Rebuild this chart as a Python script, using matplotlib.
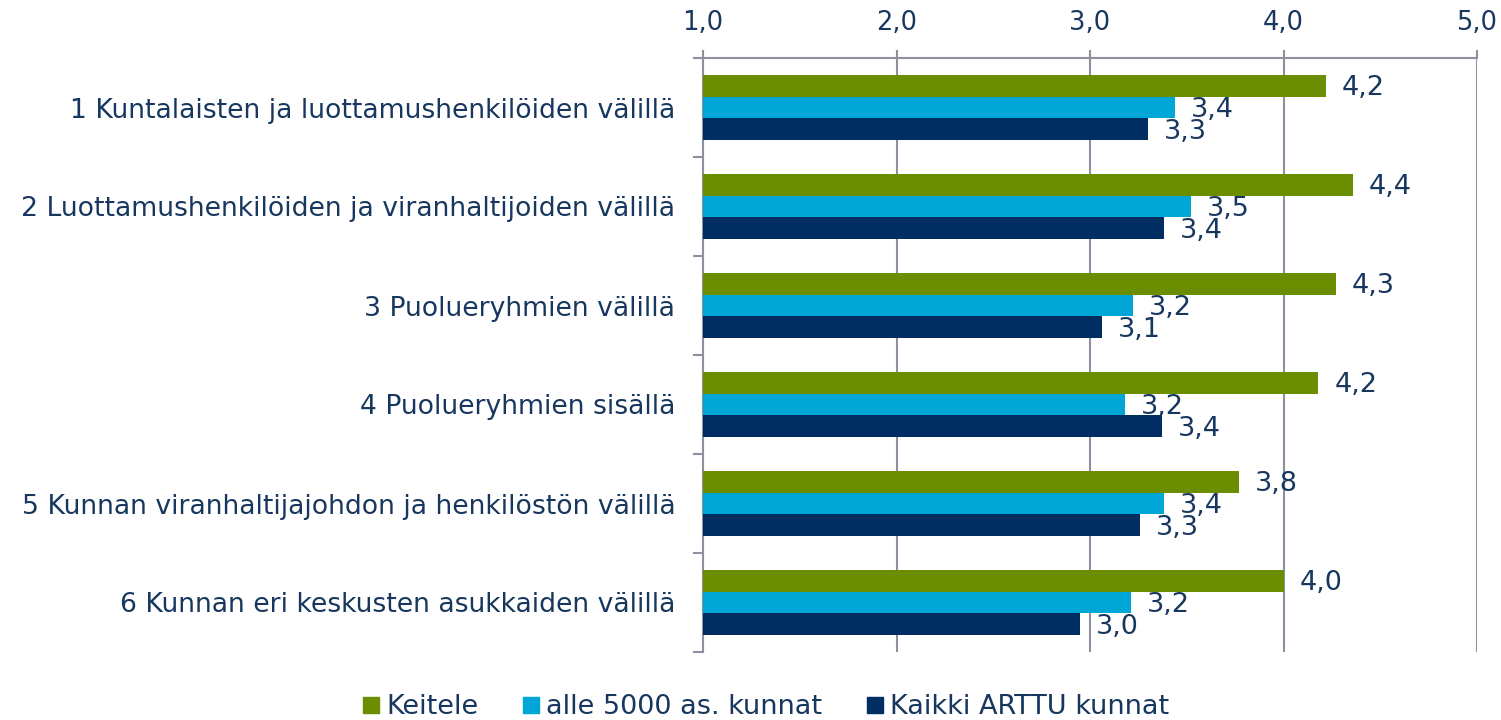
import numpy as np
import matplotlib
matplotlib.use('Agg')
import matplotlib.pyplot as plt
from matplotlib.lines import Line2D

categories = ['1 Kuntalaisten ja luottamushenkilöiden välillä',
              '2 Luottamushenkilöiden ja viranhaltijoiden välillä',
              '3 Puolueryhmien välillä',
              '4 Puolueryhmien sisällä',
              '5 Kunnan viranhaltijajohdon ja henkilöstön välillä',
              '6 Kunnan eri keskusten asukkaiden välillä']
series_names = ['Keitele', 'alle 5000 as. kunnat', 'Kaikki ARTTU kunnat']
keitele = [4.22, 4.36, 4.27, 4.18, 3.77, 4.00]
alle5000 = [3.44, 3.52, 3.22, 3.18, 3.38, 3.21]
arttu = [3.30, 3.38, 3.06, 3.37, 3.26, 2.95]
colors = ['#6B8E00', '#00A6D6', '#002E62']
text_color = '#17375E'
grid_color = '#8E90A0'

plt.rcParams['font.family'] = ['DejaVu Sans']
fig = plt.figure(figsize=(15.01, 7.2), dpi=100)
ax = fig.add_axes([703/1501, 1-652/720, (1477-703)/1501, (652-58)/720])

y = np.arange(len(categories))
h = 0.222
for i, (vals, c) in enumerate(zip([keitele, alle5000, arttu], colors)):
    pos = y + (i - 1) * h
    ax.barh(pos, [v - 1 for v in vals], left=1, height=h, color=c, zorder=3)
    for p, v in zip(pos, vals):
        ax.text(v + 0.082, p + 0.03, f'{v:.1f}'.replace('.', ','), va='center', ha='left',
                fontsize=19.5, color=text_color, zorder=4)

ax.set_xlim(1, 5)
ax.set_ylim(len(categories) - 0.5, -0.5)
ax.xaxis.tick_top()
ax.set_xticks([1, 2, 3, 4, 5])
ax.set_xticklabels(['1,0', '2,0', '3,0', '4,0', '5,0'])
ax.tick_params(axis='x', colors=grid_color, labelcolor=text_color, labelsize=18.5,
               length=6, width=1.5, pad=10)
ax.set_yticks(y)
ax.set_yticklabels(categories)
ax.set_yticks(np.arange(-0.5, len(categories), 1), minor=True)
ax.tick_params(axis='y', which='major', length=0, labelsize=19.2, labelcolor=text_color, pad=20)
ax.tick_params(axis='y', which='minor', length=7, width=1.5, color=grid_color)
ax.grid(axis='x', color=grid_color, lw=1.5, zorder=0)
for s in ['right', 'bottom']:
    ax.spines[s].set_visible(False)
for s in ['top', 'left']:
    ax.spines[s].set_color(grid_color)
    ax.spines[s].set_linewidth(1.5)

handles = [Line2D([], [], marker='s', ls='', color=c, markersize=11) for c in colors]
fig.legend(handles, series_names, loc='center', bbox_to_anchor=(0.5 + 14/1501, 1-707/720), ncol=3,
           frameon=False, fontsize=19.5, labelcolor=text_color, handletextpad=0.15,
           columnspacing=1.55, handlelength=0.8, borderpad=0)

fig.savefig('out.png', dpi=100)
